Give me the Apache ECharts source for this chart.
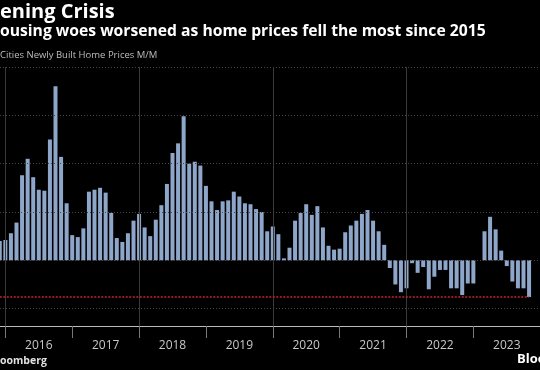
<!DOCTYPE html>
<html>
<head>
<meta charset="utf-8">
<script src="https://cdn.jsdelivr.net/npm/echarts@6/dist/echarts.min.js"></script>
<style>
html,body{margin:0;padding:0;background:#000;}
#c{width:540px;height:370px;}
</style>
</head>
<body>
<div id="c"></div>
<script>
// Month categories Nov 2015 .. Dec 2023 (last two empty)
const monthNames = ['Jan','Feb','Mar','Apr','May','Jun','Jul','Aug','Sep','Oct','Nov','Dec'];
const months = [];
for (let y = 2015; y <= 2023; y++) {
  for (let m = 0; m < 12; m++) {
    if (y === 2015 && m < 10) continue;
    months.push(monthNames[m] + ' ' + y);
  }
}
// Average M/M change (%) of new home prices, 70 cities
const priceChange = [
  0.20, 0.21,
  0.28, 0.39, 0.88, 1.05, 0.86, 0.73, 0.72, 1.25, 1.80, 1.07, 0.59, 0.26,
  0.24, 0.33, 0.71, 0.73, 0.75, 0.70, 0.49, 0.23, 0.19, 0.28, 0.41, 0.48,
  0.34, 0.25, 0.42, 0.57, 0.79, 1.11, 1.21, 1.49, 1.00, 1.02, 0.98, 0.77,
  0.61, 0.52, 0.61, 0.62, 0.71, 0.66, 0.59, 0.58, 0.53, 0.50, 0.30, 0.35,
  0.27, 0.02, 0.13, 0.41, 0.49, 0.58, 0.47, 0.56, 0.34, 0.15, 0.11, 0.12,
  0.29, 0.36, 0.41, 0.48, 0.52, 0.41, 0.30, 0.16, -0.08, -0.25, -0.33, -0.29,
  -0.03, -0.13, -0.07, -0.30, -0.17, -0.10, -0.10, -0.29, -0.29, -0.36, -0.24, -0.24,
  0.00, 0.30, 0.45, 0.32, 0.10, -0.06, -0.22, -0.29, -0.29, -0.38
];
const latestValue = -0.38;
const yGridValues = [-0.5, 0, 0.5, 1.0, 1.5, 2.0];
const xGridMonths = ['Dec 2015', 'Dec 2017', 'Dec 2019', 'Dec 2021'];
const titleText = 'ening Crisis';
const subtitleText = 'ousing woes worsened as home prices fell the most since 2015';
const seriesLabel = 'Cities Newly Built Home Prices M/M';
const sourceText = 'oomberg';
const logoText = 'Bloo';

const chart = echarts.init(document.getElementById('c'), null, {renderer: 'canvas'});
const gridStyle = {color: '#4a4a4a', type: [1, 2], width: 1};
chart.setOption({
  backgroundColor: '#000',
  animation: false,
  title: [
    {text: titleText, left: 0, top: 2, padding: 0,
     textStyle: {color: '#fff', fontSize: 20, fontWeight: 'bold', fontFamily: 'Open Sans'}},
    {text: subtitleText, left: 0, top: 24, padding: 0,
     textStyle: {color: '#fff', fontSize: 15.7, fontWeight: 'bold', fontFamily: 'Open Sans'}},
    {text: seriesLabel, left: 0, top: 50, padding: 0,
     textStyle: {color: '#bdbdbd', fontSize: 9.5, fontWeight: 'normal', fontFamily: 'Open Sans'}},
    {text: sourceText, left: 0, top: 356, padding: 0,
     textStyle: {color: '#e0e0e0', fontSize: 10.5, fontWeight: 'bold', fontFamily: 'Open Sans'}},
    {text: logoText, left: 517, top: 353, padding: 0,
     textStyle: {color: '#fff', fontSize: 13, fontWeight: 'bold', fontFamily: 'Open Sans'}}
  ],
  grid: {left: -3, top: 67, width: 546, height: 259, containLabel: false, outerBoundsMode: 'none'},
  xAxis: {
    type: 'category',
    data: months,
    boundaryGap: true,
    axisLine: {show: true, onZero: false, lineStyle: {color: '#bbbbbb', width: 1}},
    axisTick: {
      show: true, alignWithLabel: true, length: 12,
      interval: (i) => months[i].startsWith('Dec') && months[i] !== 'Dec 2023',
      lineStyle: {color: '#777', width: 1}
    },
    axisLabel: {
      interval: (i) => months[i].startsWith('Jun'),
      formatter: (v) => v.split(' ')[1],
      color: '#c8c8c8', fontSize: 12, margin: 14, fontFamily: 'Open Sans'
    },
    splitLine: {show: false}
  },
  yAxis: {
    type: 'value', min: -0.68, max: 2.0,
    axisLine: {show: false}, axisTick: {show: false}, axisLabel: {show: false},
    splitLine: {show: false}
  },
  series: [
    {
      type: 'line', data: [], z: 1, silent: true,
      markLine: {
        silent: true, symbol: 'none', label: {show: false}, animation: false,
        lineStyle: gridStyle,
        data: yGridValues.map(v => ({yAxis: v}))
          .concat(xGridMonths.map(m => ({xAxis: m, lineStyle: {color: '#3a3a3a', type: 'solid', width: 1}})))
      }
    },
    {
      type: 'bar', data: priceChange, z: 2, barWidth: 4,
      itemStyle: {color: '#8ea6c9'}
    },
    {
      type: 'line', data: [], z: 3, silent: true,
      markLine: {
        silent: true, symbol: 'none', label: {show: false}, animation: false,
        lineStyle: {color: '#c8232c', type: [2, 1.5], width: 1.5},
        data: [[{coord: [months[0], latestValue]}, {coord: [months[priceChange.length - 1], latestValue]}]]
      }
    }
  ]
});
</script>
</body>
</html>
